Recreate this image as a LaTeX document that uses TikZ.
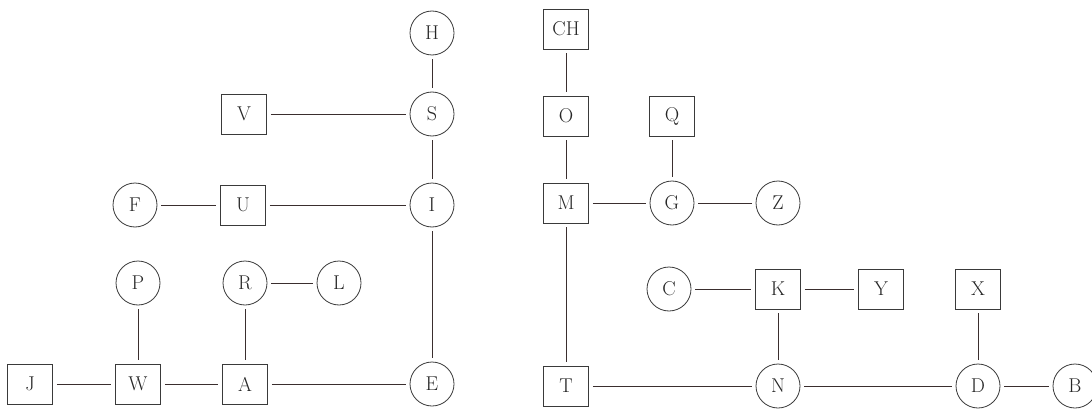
\documentclass[tikz,border=0pt]{standalone}
\usetikzlibrary{positioning}
\definecolor{inkline}{HTML}{3A2E2E}
\definecolor{inknode}{HTML}{3A3A3A}
\begin{document}
\begin{tikzpicture}[x=1pt,y=-1pt,
  every node/.style={font=\fontsize{20}{24}\selectfont, text=black!85, inner sep=0pt},
  cnode/.style={circle, draw=inknode, line width=0.8pt, minimum size=44pt},
  bnode/.style={rectangle, draw=inknode, line width=0.8pt, minimum width=45pt, minimum height=40pt},
  link/.style={draw=inkline, line width=1pt, shorten >=4pt, shorten <=4pt}]
\useasboundingbox[fill=white] (0,0) rectangle (1092,412);
% left part
\node[cnode] (H) at (432,33) {H};
\node[bnode] (V) at (244,114) {V};
\node[cnode] (S) at (432,114) {S};
\node[cnode] (F) at (135,205) {F};
\node[bnode] (U) at (243,205) {U};
\node[cnode] (I) at (432,205) {I};
\node[cnode] (P) at (138,283) {P};
\node[cnode] (R) at (245,283) {R};
\node[cnode] (L) at (339,283) {L};
\node[bnode] (J) at (30,384) {J};
\node[bnode] (W) at (138,384) {W};
\node[bnode] (A) at (245,384) {A};
\node[cnode] (E) at (432,384) {E};
% right part
\node[bnode] (CH) at (566,29) {CH};
\node[bnode] (O) at (566,116) {O};
\node[bnode] (Q) at (672,116) {Q};
\node[bnode] (M) at (566,203) {M};
\node[cnode] (G) at (672,203) {G};
\node[cnode] (Z) at (778,203) {Z};
\node[cnode] (C) at (669,289) {C};
\node[bnode] (K) at (778,289) {K};
\node[bnode] (Y) at (881,289) {Y};
\node[bnode] (X) at (978,289) {X};
\node[bnode] (T) at (566,386) {T};
\node[cnode] (N) at (778,386) {N};
\node[cnode] (D) at (978,386) {D};
\node[cnode] (B) at (1075,386) {B};
% connectors left
\draw[link] (H) -- (S);
\draw[link] (V) -- (S);
\draw[link] (S) -- (I);
\draw[link] (F) -- (U);
\draw[link] (U) -- (I);
\draw[link] (I) -- (E);
\draw[link] (P) -- (W);
\draw[link] (R) -- (A);
\draw[link] (R) -- (L);
\draw[link] (J) -- (W);
\draw[link] (W) -- (A);
\draw[link] (A) -- (E);
% connectors right
\draw[link] (CH) -- (O);
\draw[link] (O) -- (M);
\draw[link] (M) -- (G);
\draw[link] (Q) -- (G);
\draw[link] (G) -- (Z);
\draw[link] (M) -- (T);
\draw[link] (C) -- (K);
\draw[link] (K) -- (Y);
\draw[link] (K) -- (N);
\draw[link] (T) -- (N);
\draw[link] (N) -- (D);
\draw[link] (X) -- (D);
\draw[link] (D) -- (B);
\end{tikzpicture}
\end{document}
